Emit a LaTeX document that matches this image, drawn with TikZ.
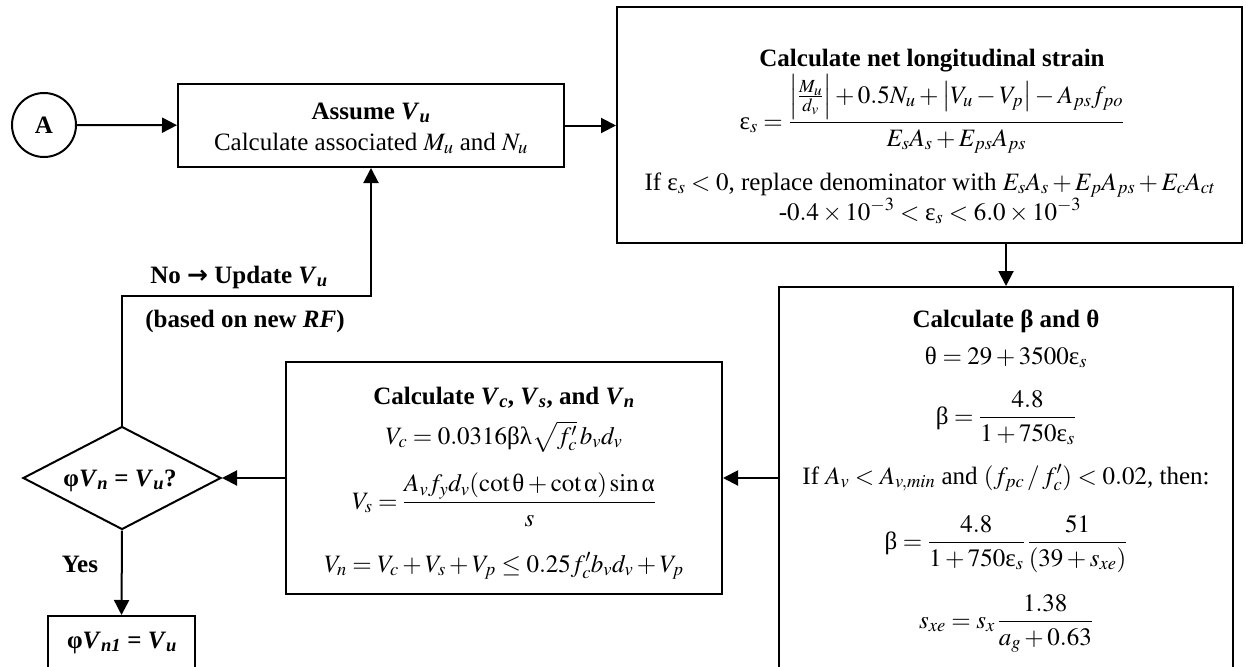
\documentclass[tikz,border=0pt]{standalone}
\usepackage{amsmath}
\usepackage{mathptmx}
\usepackage[no-math]{fontspec}
\setmainfont{Liberation Serif}
\newfontfamily\dvs{DejaVu Sans}
\usetikzlibrary{arrows.meta,shapes.geometric}
\newcommand\bV[1]{\textbf{\textit{V}}\textsubscript{\textbf{\textit{#1}}}}
\newcommand\Gb{\text{\upshape β}}
\newcommand\Gt{\text{\upshape θ}}
\newcommand\Ge{\text{\upshape ε}}
\newcommand\Gl{\text{\upshape λ}}
\newcommand\Ga{\text{\upshape α}}
\begin{document}
\begin{tikzpicture}[x=1pt,y=-1pt,
  box/.style={draw, line width=2pt, inner sep=0pt},
  arr/.style={line width=2pt, -{Triangle[length=15pt,width=15pt]}},
  tx/.style={font=\fontsize{25}{27}\selectfont, inner sep=0pt, anchor=base},
  lab/.style={font=\fontsize{25}{27}\selectfont\bfseries, inner sep=0pt, anchor=base}]
\clip (0,0) rectangle (1246,666);
\fill[white] (0,0) rectangle (1246,666);

% boxes
\node[circle, draw, line width=2pt, minimum size=64pt, inner sep=0pt,
      font=\fontsize{25}{27}\selectfont\bfseries] (A) at (44,125) {A};
\node[box, minimum width=386pt, minimum height=83pt] (assume) at (371,125.5) {};
\node[box, minimum width=625pt, minimum height=236pt] (strain) at (929.5,125) {};
\node[box, minimum width=454pt, minimum height=413pt] (beta) at (1006,493.5) {};
\node[box, minimum width=436pt, minimum height=232pt] (vc) at (504,478) {};
\node[draw, line width=2pt, diamond, inner sep=0pt, minimum width=198pt, minimum height=103pt] (dia) at (122,478) {};
\node[box, minimum width=147pt, minimum height=84pt] (fin) at (121.5,658) {};

% texts: assume
\node[lab] (t1) at (371,119) {Assume \bV{u}};
\node[tx] (t2) at (371,150) {Calculate associated $M_u$ and $N_u$};

% strain
\node[lab] (s1) at (932,67) {Calculate net longitudinal strain};
\node[tx] (s2) at (932,129) {$\Ge_s = \dfrac{\left|\frac{M_u}{d_v}\right| + 0.5N_u + \left|V_u - V_p\right| - A_{ps}f_{po}}{E_sA_s + E_{ps}A_{ps}}$};
\node[tx] (s3) at (930,190) {If $\Ge_s < 0$, replace denominator with $E_sA_s + E_pA_{ps} + E_cA_{ct}$};
\node[tx] (s4) at (930,220) {$\text{-}0.4 \times 10^{-3} < \Ge_s < 6.0 \times 10^{-3}$};

% beta
\node[lab] (b1) at (1006,327) {Calculate β and θ};
\node[tx] (b2) at (1006,364) {$\Gt = 29 + 3500\Ge_s$};
\node[tx] (b3) at (1006,424) {$\Gb = \dfrac{4.8}{1 + 750\Ge_s}$};
\node[tx] (b4) at (1006,484) {If $A_v < A_{v,min}$ and $(f_{pc}\,/\,f'_c) < 0.02$, then:};
\node[tx] (b5) at (1006,549) {$\Gb = \dfrac{4.8}{1 + 750\Ge_s}\,\dfrac{51}{(39 + s_{xe})}$};
\node[tx] (b6) at (1006,628) {$s_{xe} = s_x\,\dfrac{1.38}{a_g + 0.63}$};

% vc
\node[lab] (v1) at (504,404) {Calculate \bV{c}, \bV{s}, and \bV{n}};
\node[tx] (v2) at (504,444) {$V_c = 0.0316\Gb\Gl\sqrt{f'_c}\,b_vd_v$};
\node[tx] (v3) at (504,509) {$V_s = \dfrac{A_vf_yd_v(\cot\Gt + \cot\Ga)\sin\Ga}{s}$};
\node[tx] (v4) at (504,572) {$V_n = V_c + V_s + V_p \le 0.25f'_cb_vd_v + V_p$};

% decision and end
\node[lab] (d1) at (120,486) {φ\bV{n} = \bV{u}?};
\node[lab] (f1) at (122,648) {φ\bV{n1} = \bV{u}};

% labels
\node[lab] (no) at (239,283) {No {\dvs\bfseries →} Update \bV{u}};
\node[lab] (bn) at (245,327) {(based on new \textit{RF})};
\node[lab] (yes) at (80,572) {Yes};

% connectors
\coordinate (k) at (assume.south |- 0,296);
\draw[arr] (A) -- (assume);
\draw[arr] (assume.east) -- (assume.east -| strain.west);
\draw[arr] (strain.south -| beta.north) -- (beta.north);
\draw[arr] (vc.east -| beta.west) -- (vc.east);
\draw[arr] (vc.west) -- (dia.east);
\draw[arr] (dia.south) -- (fin.north);
\draw[arr] (dia.north) |- (k) -- (assume.south);
\end{tikzpicture}
\end{document}
